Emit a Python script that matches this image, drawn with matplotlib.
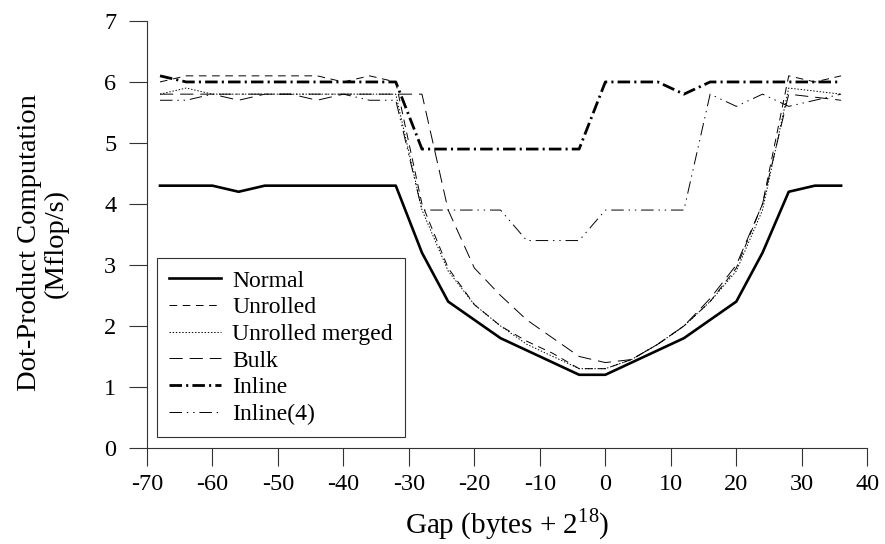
import matplotlib
matplotlib.use("Agg")
import matplotlib.pyplot as plt

plt.rcParams['font.family'] = ['Liberation Serif', 'DejaVu Serif']
plt.rcParams['lines.scale_dashes'] = False
plt.rcParams['mathtext.fontset'] = 'custom'
plt.rcParams['mathtext.rm'] = 'Liberation Serif'

gap = [-68, -64, -60, -56, -52, -48, -44, -40, -36, -32, -28, -24, -20, -16,
       -12, -8, -4, 0, 4, 8, 12, 16, 20, 24, 28, 32, 36]

normal = [4.3, 4.3, 4.3, 4.2, 4.3, 4.3, 4.3, 4.3, 4.3, 4.3, 3.2, 2.4, 2.1, 1.8,
          1.6, 1.4, 1.2, 1.2, 1.4, 1.6, 1.8, 2.1, 2.4, 3.2, 4.2, 4.3, 4.3]
unrolled = [6.0, 6.1, 6.1, 6.1, 6.1, 6.1, 6.1, 6.0, 6.1, 6.0, 4.0, 2.95, 2.35, 2.0,
            1.75, 1.55, 1.3, 1.3, 1.45, 1.7, 2.0, 2.4, 2.95, 4.0, 6.1, 6.0, 6.1]
unrolled_merged = [5.8, 5.9, 5.8, 5.8, 5.8, 5.8, 5.8, 5.8, 5.8, 5.8, 3.9, 2.9, 2.35, 2.0,
                   1.7, 1.5, 1.3, 1.3, 1.45, 1.7, 2.0, 2.4, 2.9, 3.9, 5.9, 5.85, 5.8]
bulk = [5.8, 5.8, 5.8, 5.7, 5.8, 5.8, 5.7, 5.8, 5.8, 5.8, 5.8, 3.9, 2.95, 2.5,
        2.1, 1.8, 1.5, 1.4, 1.45, 1.7, 2.0, 2.45, 3.0, 4.0, 5.8, 5.75, 5.7]
inline = [6.1, 6.0, 6.0, 6.0, 6.0, 6.0, 6.0, 6.0, 6.0, 6.0, 4.9, 4.9, 4.9, 4.9,
          4.9, 4.9, 4.9, 6.0, 6.0, 6.0, 5.8, 6.0, 6.0, 6.0, 6.0, 6.0, 6.0]
inline4 = [5.7, 5.7, 5.8, 5.8, 5.8, 5.8, 5.8, 5.8, 5.7, 5.7, 3.9, 3.9, 3.9, 3.9,
           3.4, 3.4, 3.4, 3.9, 3.9, 3.9, 3.9, 5.8, 5.6, 5.8, 5.6, 5.7, 5.8]

x_ticks = [-70, -60, -50, -40, -30, -20, -10, 0, 10, 20, 30, 40]
y_ticks = [0, 1, 2, 3, 4, 5, 6, 7]

fig = plt.figure(figsize=(8.85, 5.44), dpi=100)
ax = fig.add_axes([0.166, 0.1765, 0.814, 0.785])

ax.plot(gap, normal, color='black', lw=1.9, linestyle='-', label='Normal')
ax.plot(gap, unrolled, color='black', lw=0.7, linestyle=(0, (5.5, 4.0)), label='Unrolled')
ax.plot(gap, unrolled_merged, color='black', lw=0.7, linestyle=(0, (1.0, 1.3)), label='Unrolled merged')
ax.plot(gap, bulk, color='black', lw=0.7, linestyle=(0, (9.5, 5.0)), label='Bulk')
ax.plot(gap, inline, color='black', lw=2.0, linestyle=(0, (9.0, 3.0, 1.5, 3.0)), label='Inline')
ax.plot(gap, inline4, color='black', lw=0.7, linestyle=(0, (9.0, 3.5, 1.0, 3.5, 1.0, 3.5)), label='Inline(4)')

ax.set_xlim(-70, 40)
ax.set_ylim(0, 7)
ax.set_xticks(x_ticks)
ax.set_yticks(y_ticks)
ax.set_xticklabels([str(v) for v in x_ticks])
ax.set_yticklabels([str(v) for v in y_ticks])

for s in ['top', 'right']:
    ax.spines[s].set_visible(False)
for s in ['left', 'bottom']:
    ax.spines[s].set_linewidth(0.8)
    ax.spines[s].set_color('#333333')

ax.tick_params(axis='both', direction='out', length=13, width=0.8, color='#333333',
               labelsize=17.5)
ax.tick_params(axis='x', pad=6)
ax.tick_params(axis='y', pad=9)

ax.set_xlabel('Gap (bytes + 2$^{18}$)', fontsize=21, labelpad=8)
ax.set_ylabel('Dot-Product Computation\n(Mflop/s)', fontsize=20.5,
              linespacing=1.1)
ax.yaxis.set_label_coords(-0.108, 0.48)

leg = ax.legend(loc='lower left', bbox_to_anchor=(0.0139, 0.0258), fontsize=17,
                frameon=True, fancybox=False, edgecolor='#333333', framealpha=1,
                handlelength=2.2, handletextpad=0.5, labelspacing=0.22,
                borderpad=0.5, borderaxespad=0.0)
leg.get_frame().set_linewidth(0.8)

fig.savefig('out.png', dpi=100)
